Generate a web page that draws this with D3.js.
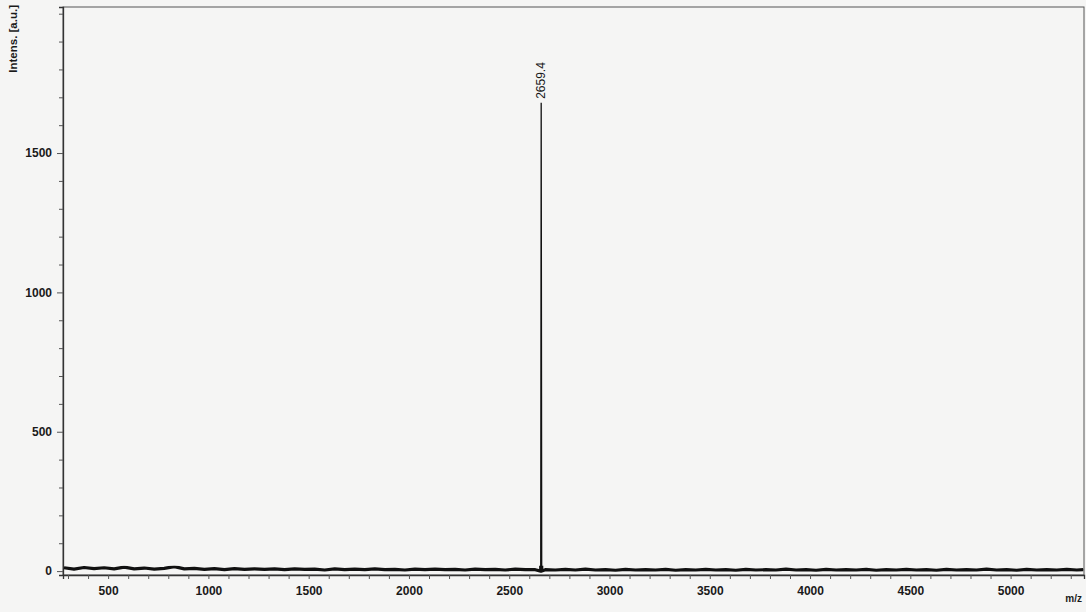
<!DOCTYPE html>
<html lang="en">
<head>
  <meta charset="UTF-8">
  <title>Mass spectrum</title>
  <script src="https://d3js.org/d3.v7.min.js"></script>
  <style>
    html, body { margin: 0; padding: 0; background: #f5f5f4; }
    svg text { font-family: "Liberation Sans", Arial, sans-serif; fill: #1a1a1a; }
  </style>
</head>
<body>
  <div id="spectrum"></div>
  <script>

  // spectrum: m/z and intensity [a.u.]
  const mzValues = [
    280, 330, 380, 430, 480, 530, 580, 630, 680, 730,
    780, 830, 880, 930, 980, 1030, 1080, 1130, 1180, 1230,
    1280, 1330, 1380, 1430, 1480, 1530, 1580, 1630, 1680, 1730,
    1780, 1830, 1880, 1930, 1980, 2030, 2080, 2130, 2180, 2230,
    2280, 2330, 2380, 2430, 2480, 2530, 2580, 2630,
    2657, 2659.4, 2662,
    2680, 2730, 2780, 2830, 2880, 2930, 2980, 3030, 3080, 3130,
    3180, 3230, 3280, 3330, 3380, 3430, 3480, 3530, 3580, 3630,
    3680, 3730, 3780, 3830, 3880, 3930, 3980, 4030, 4080, 4130,
    4180, 4230, 4280, 4330, 4380, 4430, 4480, 4530, 4580, 4630,
    4680, 4730, 4780, 4830, 4880, 4930, 4980, 5030, 5080, 5130,
    5180, 5230, 5280, 5330, 5362
  ];
  const intensityValues = [
    12, 7, 13, 9, 12, 8, 14, 8, 11, 7,
    10, 16, 8, 10, 6, 9, 5, 9, 6, 8,
    6, 8, 5, 8, 6, 7, 4, 8, 5, 7,
    5, 8, 5, 6, 4, 7, 5, 7, 5, 6,
    4, 7, 5, 6, 4, 7, 5, 5,
    0, 1680, 0,
    5, 4, 6, 4, 7, 4, 5, 3, 6, 4,
    5, 4, 6, 3, 5, 4, 6, 4, 5, 3,
    6, 4, 5, 4, 7, 4, 5, 3, 6, 4,
    5, 4, 6, 3, 5, 4, 6, 4, 5, 3,
    6, 4, 5, 4, 7, 4, 5, 3, 6, 4,
    5, 4, 6, 4, 5
  ];
  const peakLabels = [{mz: 2659.4, intensity: 1680, text: "2659.4"}];
  const xTickLabels = [500, 1000, 1500, 2000, 2500, 3000, 3500, 4000, 4500, 5000];
  const yTickLabels = [0, 500, 1000, 1500];

  const width = 1086;
  const height = 612;
  const margin = {top: 7, left: 63, right: 2, bottom: 37};
  const plotWidth = width - margin.left - margin.right;
  const plotHeight = height - margin.top - margin.bottom;

  const svg = d3.select("#spectrum")
              .append("svg")
                .attr("width", width)
                .attr("height", height)
              .append("g")
                .attr("transform", "translate(" + margin.left + "," + margin.top + ")");

  const x = d3.scaleLinear()
              .domain([275, 5366])
              .range([0, plotWidth]);
  const y = d3.scaleLinear()
              .domain([-14, 2024])
              .range([plotHeight, 0]);

  // frame
  svg.append("rect")
     .attr("width", plotWidth)
     .attr("height", plotHeight)
     .attr("fill", "none")
     .attr("stroke", "#555")
     .attr("stroke-width", 1);

  // minor ticks every 100, labels every 500
  const xAxis = svg.append("g")
      .attr("transform", "translate(0," + plotHeight + ")")
      .call(d3.axisBottom(x)
              .tickValues(d3.range(300, 5366, 100))
              .tickSize(4)
              .tickFormat(d => xTickLabels.includes(d) ? d : ""));

  const yAxis = svg.append("g")
      .call(d3.axisLeft(y)
              .tickValues(d3.range(0, 2001, 100))
              .tickSize(4)
              .tickFormat(d => yTickLabels.includes(d) ? d : ""));

  [xAxis, yAxis].forEach(a => {
    a.select(".domain").attr("stroke", "#333").attr("stroke-width", 1.3);
    a.selectAll(".tick line").attr("stroke", "#555");
    a.selectAll(".tick text")
      .style("font-size", "12px")
      .style("font-weight", "bold")
      .attr("fill", "#1a1a1a");
  });
  xAxis.selectAll(".tick text").attr("dy", "1.05em");
  yAxis.selectAll(".tick line")
       .filter(d => yTickLabels.includes(d))
       .attr("x2", -6);
  yAxis.selectAll(".tick text").attr("x", -11);

  // spectrum trace
  const points = mzValues.map((m, i) => [m, intensityValues[i]]);
  const trace = d3.line()
                  .x(d => x(d[0]))
                  .y(d => y(d[1]));

  // the dense noise near zero prints as a heavy band
  svg.append("clipPath")
     .attr("id", "baseClip")
     .append("rect")
       .attr("x", 0)
       .attr("y", y(19))
       .attr("width", plotWidth)
       .attr("height", y(-14) - y(19));

  svg.append("path")
     .datum(points)
     .attr("clip-path", "url(#baseClip)")
     .attr("fill", "none")
     .attr("stroke", "#111")
     .attr("stroke-width", 3.2)
     .attr("stroke-linejoin", "round")
     .attr("d", trace);

  svg.append("path")
     .datum(points)
     .attr("fill", "none")
     .attr("stroke", "#111")
     .attr("stroke-width", 1.3)
     .attr("d", trace);

  // peak annotation
  svg.selectAll(".peak")
     .data(peakLabels)
     .enter()
     .append("text")
       .attr("class", "peak")
       .attr("transform", d => "translate(" + (x(d.mz) + 4) + "," + (y(d.intensity) - 4) + ") rotate(-90)")
       .attr("text-anchor", "start")
       .style("font-size", "12px")
       .text(d => d.text);

  // axis titles
  svg.append("text")
     .attr("transform", "translate(" + (-46) + "," + (-2) + ") rotate(-90)")
     .attr("text-anchor", "end")
     .style("font-size", "11.5px")
     .style("font-weight", "bold")
     .text("Intens. [a.u.]");

  svg.append("text")
     .attr("x", plotWidth - 2)
     .attr("y", plotHeight + 27)
     .attr("text-anchor", "end")
     .style("font-size", "10px")
     .style("font-weight", "bold")
     .text("m/z");

  </script>
</body>
</html>
